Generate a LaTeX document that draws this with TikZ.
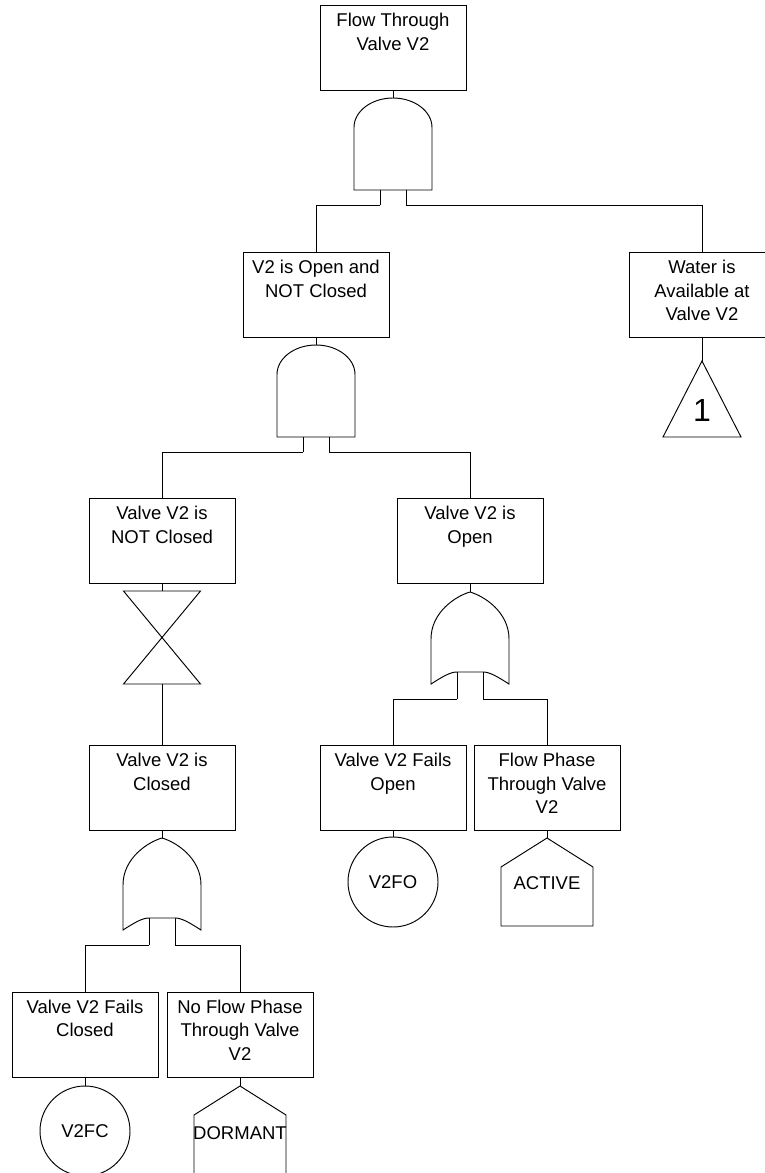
\documentclass[tikz,border=0pt]{standalone}
\usepackage{fontspec}
\setmainfont{Liberation Sans}
\newcommand{\evt}[1]{\parbox[c][85pt][t]{146pt}{\centering\rule{0pt}{21pt}#1}}

\begin{document}
\begin{tikzpicture}[x=1pt,y=-1pt,line width=0.95pt,
   font=\fontsize{18.5}{23.5}\selectfont,
   event/.style={draw,inner sep=0pt},
   basic/.style={draw,circle,minimum size=90pt,inner sep=0pt},
   andgate/.pic={
     \draw (-39,92) -- (-39,29.5) .. controls (-39,13.2) and (-21.5,0) .. (0,0)
        .. controls (21.5,0) and (39,13.2) .. (39,29.5) -- (39,92) -- cycle;
     \draw (-13,92) -- (-13,107) (13,92) -- (13,107);
     \coordinate (-top) at (0,0);
     \coordinate (-l) at (-13,107);
     \coordinate (-r) at (13,107);},
   orgate/.pic={
     \draw (0,0) .. controls (-14,4) and (-39,20) .. (-39,47) -- (-39,92)
        .. controls (-28,85) and (-20,80) .. (-13,80) -- (13,80)
        .. controls (20,80) and (28,85) .. (39,92) -- (39,47)
        .. controls (39,20) and (14,4) .. (0,0) -- cycle;
     \draw (-13,80) -- (-13,107) (13,80) -- (13,107);
     \coordinate (-top) at (0,0);
     \coordinate (-l) at (-13,107);
     \coordinate (-r) at (13,107);},
   notgate/.pic={
     \draw (-38.5,0) -- (38.5,0) -- (-38.5,93) -- (38.5,93) -- cycle;
     \coordinate (-top) at (0,0);
     \coordinate (-bot) at (0,93);},
   house/.pic={
     \draw (0,0) -- (46,29) -- (46,88) -- (-46,88) -- (-46,29) -- cycle;
     \coordinate (-top) at (0,0);},
   transfer/.pic={
     \draw (0,0) -- (39,76) -- (-39,76) -- cycle;
     \coordinate (-top) at (0,0);}]
\useasboundingbox (0,0) rectangle (764,1173);

\node[event] (top) at (393,48) {\evt{Flow Through\\Valve V2}};
\pic (gA) at (393,98) {andgate};
\node[event] (opennc) at (316,295) {\evt{V2 is Open and\\NOT Closed}};
\node[event] (water) at (702,295) {\evt{Water is\\Available at\\Valve V2}};
\pic (tr1) at (702,361) {transfer};
\node[font=\fontsize{32}{32}\selectfont] (one) at (702,410) {1};
\pic (gB) at (316,345) {andgate};
\node[event] (notcl) at (162,541) {\evt{Valve V2 is\\NOT Closed}};
\node[event] (open) at (470,541) {\evt{Valve V2 is\\Open}};
\pic (gN) at (162,591) {notgate};
\pic (gC) at (470,592) {orgate};
\node[event] (closed) at (162,788) {\evt{Valve V2 is\\Closed}};
\node[event] (failopen) at (393,788) {\evt{Valve V2 Fails\\Open}};
\node[event] (flowph) at (547,788) {\evt{Flow Phase\\Through Valve\\V2}};
\node[basic] (v2fo) at (393,882) {V2FO};
\pic (hact) at (547,838) {house};
\node (active) at (547,883) {ACTIVE};
\pic (gD) at (162,838) {orgate};
\node[event] (failcl) at (85,1034.5) {\evt{Valve V2 Fails\\Closed}};
\node[event] (noflow) at (240,1034.5) {\evt{No Flow Phase\\Through Valve\\V2}};
\node[basic] (v2fc) at (85,1131) {V2FC};
\pic (hdorm) at (240,1086) {house};
\node (dormant) at (240,1133) {DORMANT};

\draw (top.south) -- (gA-top);
\draw (gA-l) -| (opennc.north);
\draw (gA-r) -| (water.north);
\draw (water.south) -- (tr1-top);
\draw (opennc.south) -- (gB-top);
\draw (gB-l) -| (notcl.north);
\draw (gB-r) -| (open.north);
\draw (notcl.south) -- (gN-top);
\draw (gN-bot) -- (closed.north);
\draw (open.south) -- (gC-top);
\draw (gC-l) -| (failopen.north);
\draw (gC-r) -| (flowph.north);
\draw (failopen.south) -- (v2fo.north);
\draw (flowph.south) -- (hact-top);
\draw (closed.south) -- (gD-top);
\draw (gD-l) -| (failcl.north);
\draw (gD-r) -| (noflow.north);
\draw (failcl.south) -- (v2fc.north);
\draw (noflow.south) -- (hdorm-top);
\end{tikzpicture}
\end{document}
